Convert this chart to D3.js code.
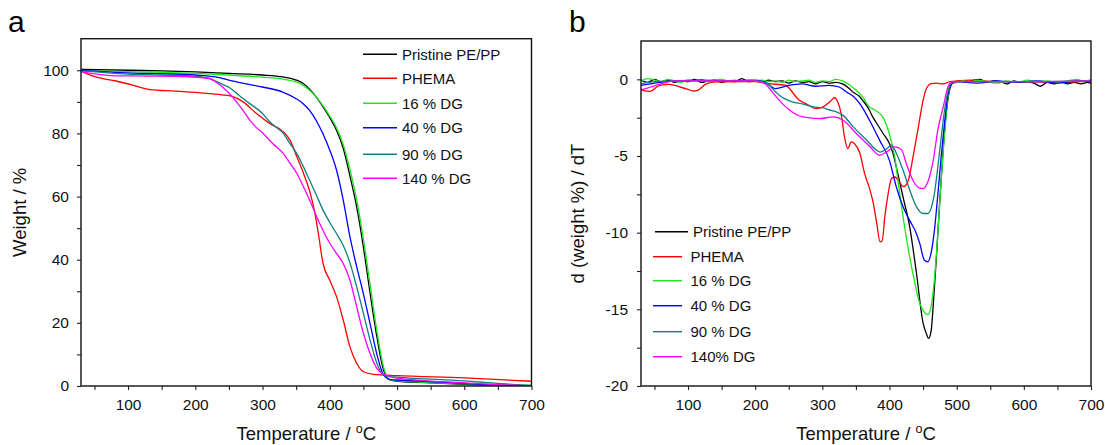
<!DOCTYPE html>
<html><head><meta charset="utf-8">
<script src="https://cdn.jsdelivr.net/npm/d3@7"></script>
<style>
html,body{margin:0;padding:0;background:#fff;}
svg{display:block;font-family:"Liberation Sans",Arial,sans-serif;}
</style></head>
<body>
<svg id="chart" width="1105" height="445"></svg>
<script>
// ---------- DATA ----------
const seriesNames = ["Pristine PE/PP","PHEMA","16 % DG","40 % DG","90 % DG","140 % DG"];
const legendNamesB = ["Pristine PE/PP","PHEMA","16 % DG","40 % DG","90 % DG","140% DG"];
const seriesColors = ["#000000","#ff0000","#1ee61e","#0000ff","#0f8080","#ff00ff"];
const xTicksMajor = [100,200,300,400,500,600,700];
const yTicksA = [0,20,40,60,80,100];
const yTicksB = [-20,-15,-10,-5,0];

// TGA (panel a): [temperature °C, weight %]
const tgaPristine = [[30,100.3],[100,100.0],[150,99.8],[200,99.5],[250,99.0],[300,98.5],[330,97.9],[340,97.5],[350,96.9],[360,95.9],[370,94.0],[380,91.5],[390,88.4],[400,85.0],[410,81.0],[420,75.3],[430,66.5],[440,56.7],[450,44.0],[460,29.3],[470,15.6],[480,5.0],[485,2.8],[490,1.9],[500,1.5],[550,1.0],[600,0.5],[650,0.2],[700,0.0]];
const tgaPHEMA = [[30,99.7],[40,98.8],[52,97.9],[82,96.6],[107,95.3],[132,93.9],[171,93.4],[221,92.6],[240,92.2],[255,91.7],[271,90.0],[291,86.3],[311,83.1],[331,80.5],[341,77.8],[351,72.6],[361,67.3],[371,61.0],[378,54.6],[383,48.3],[390,38.8],[400,33.5],[410,28.3],[420,20.9],[430,12.4],[440,7.2],[450,4.5],[465,3.7],[500,3.3],[600,2.6],[700,1.5]];
const tga16 = [[30,99.9],[100,99.6],[150,99.3],[200,99.0],[250,98.5],[300,97.8],[330,97.2],[350,96.3],[360,95.3],[370,93.7],[380,91.5],[390,88.7],[400,85.5],[410,81.8],[420,76.5],[430,68.5],[440,59.0],[450,46.5],[460,32.0],[470,17.5],[480,6.0],[485,3.0],[490,2.0],[500,1.6],[600,0.7],[700,0.3]];
const tga40 = [[30,100.0],[100,99.2],[150,98.9],[200,98.5],[230,97.9],[250,96.9],[270,95.9],[300,94.7],[330,93.1],[350,91.0],[360,89.5],[370,87.3],[380,84.0],[390,79.8],[400,74.7],[410,68.4],[420,58.9],[430,47.2],[440,37.8],[450,29.2],[460,19.7],[470,10.1],[480,3.5],[490,2.0],[500,1.9],[600,0.8],[650,0.2],[700,0.0]];
const tga90 = [[30,99.8],[100,98.8],[150,98.5],[200,98.1],[220,97.5],[230,96.6],[240,95.6],[250,94.6],[260,93.0],[270,91.2],[280,89.6],[300,86.3],[311,83.6],[320,82.0],[331,80.0],[340,77.0],[351,73.6],[360,69.8],[370,65.2],[380,60.5],[390,55.7],[400,51.8],[410,48.3],[420,44.5],[425,42.0],[430,39.0],[440,31.4],[450,23.0],[460,14.5],[470,7.2],[480,3.5],[490,3.0],[500,2.8],[600,1.6],[650,0.8],[700,0.1]];
const tga140 = [[30,99.6],[70,98.4],[100,98.2],[170,98.1],[220,97.4],[230,96.4],[240,94.8],[250,92.8],[260,90.3],[271,87.3],[280,84.5],[290,82.0],[301,80.0],[315,76.8],[331,73.6],[340,70.8],[351,67.3],[360,63.5],[370,58.9],[385,51.5],[400,45.2],[410,42.0],[420,38.8],[430,33.5],[440,25.1],[450,16.7],[460,10.2],[470,5.6],[480,3.8],[490,3.0],[500,2.5],[600,1.0],[700,0.0]];

// DTG (panel b): [temperature °C, d(weight %)/dT]
const dtgPristine = [[30,-0.05],[40,-0.2],[50,0.0],[60,-0.15],[70,-0.05],[80,-0.2],[90,-0.1],[100,-0.15],[110,0.0],[120,-0.2],[130,-0.1],[140,-0.05],[150,-0.2],[160,-0.1],[170,-0.15],[180,0.05],[190,-0.15],[200,-0.1],[210,-0.2],[220,-0.05],[230,-0.15],[240,-0.1],[250,-0.25],[260,-0.1],[270,-0.2],[280,-0.15],[290,-0.3],[300,-0.15],[310,-0.25],[320,-0.2],[330,-0.3],[340,-0.6],[346,-0.85],[355,-1.1],[360,-1.37],[370,-2.0],[375,-2.45],[380,-2.8],[390,-3.5],[400,-4.2],[405,-4.8],[410,-5.7],[420,-7.65],[430,-9.6],[440,-12.6],[450,-15.9],[455,-16.6],[458,-16.9],[462,-16.4],[465,-14.8],[470,-11.5],[475,-7.8],[480,-4.5],[485,-2.0],[490,-0.6],[495,-0.2],[505,-0.1],[515,-0.2],[525,-0.05],[535,0.0],[545,-0.2],[555,-0.1],[565,-0.15],[575,-0.3],[585,-0.1],[595,-0.2],[605,-0.15],[615,-0.25],[625,-0.45],[635,-0.2],[645,-0.3],[655,-0.15],[665,-0.3],[675,-0.2],[685,-0.3],[695,-0.2],[700,-0.25]];
const dtgPHEMA = [[30,-0.6],[33,-0.72],[43,-0.78],[58,-0.39],[73,-0.33],[88,-0.5],[100,-0.65],[108,-0.76],[115,-0.7],[127,-0.3],[142,-0.17],[200,-0.15],[219,-0.28],[245,-0.38],[251,-0.6],[261,-1.15],[266,-1.37],[276,-1.6],[291,-1.91],[301,-1.8],[311,-1.48],[318,-1.2],[323,-1.48],[328,-2.24],[333,-3.76],[338,-4.52],[343,-4.08],[348,-4.2],[356,-4.84],[363,-6.15],[371,-7.23],[376,-8.1],[381,-9.4],[386,-10.6],[389,-10.55],[393,-8.97],[398,-7.45],[403,-6.47],[408,-6.37],[413,-6.6],[421,-7.0],[428,-6.58],[435,-5.06],[443,-3.1],[450,-1.37],[455,-0.6],[462,-0.28],[470,-0.25],[480,-0.3],[490,-0.15],[520,-0.05],[560,-0.15],[600,-0.15],[650,-0.2],[700,-0.1]];
const dtg16 = [[30,-0.1],[40,0.05],[50,-0.05],[60,-0.15],[70,0.0],[80,-0.1],[90,-0.2],[100,-0.05],[110,-0.1],[120,0.0],[130,-0.15],[140,-0.05],[150,0.0],[160,-0.1],[170,-0.05],[180,-0.15],[190,-0.05],[200,-0.1],[210,-0.05],[220,-0.15],[230,-0.1],[240,-0.2],[250,-0.05],[260,-0.15],[270,-0.1],[280,-0.05],[290,-0.2],[300,-0.1],[310,-0.15],[320,0.0],[330,-0.1],[340,-0.35],[350,-0.7],[360,-1.15],[370,-1.8],[378,-2.0],[390,-2.45],[400,-3.6],[408,-5.1],[415,-7.4],[425,-10.3],[435,-12.7],[445,-14.6],[452,-15.2],[457,-15.35],[462,-14.8],[467,-13.0],[472,-10.0],[477,-6.5],[482,-3.5],[487,-1.2],[492,-0.3],[500,-0.2],[510,-0.1],[520,-0.2],[530,-0.05],[545,-0.15],[560,-0.25],[575,-0.1],[590,-0.2],[605,-0.05],[620,-0.15],[635,-0.1],[650,-0.2],[665,-0.1],[680,0.0],[690,-0.15],[700,0.0]];
const dtg40 = [[30,-0.4],[50,-0.25],[80,-0.1],[120,-0.05],[160,-0.1],[200,-0.05],[215,-0.2],[230,-0.6],[250,-0.4],[270,-0.3],[290,-0.45],[310,-0.4],[325,-0.5],[336,-0.83],[346,-1.1],[356,-1.6],[370,-2.65],[385,-3.95],[400,-5.3],[410,-7.0],[420,-8.3],[430,-9.2],[440,-10.05],[445,-10.7],[452,-11.8],[457,-11.9],[462,-11.3],[467,-9.8],[472,-7.5],[477,-5.0],[482,-2.8],[487,-1.0],[492,-0.3],[500,-0.15],[530,-0.25],[560,-0.1],[590,-0.2],[620,-0.1],[650,-0.25],[680,-0.1],[700,-0.15]];
const dtg90 = [[30,-0.3],[50,-0.15],[100,-0.1],[200,-0.1],[215,-0.2],[230,-0.8],[236,-1.04],[256,-1.48],[270,-1.6],[286,-1.8],[300,-1.85],[311,-2.0],[320,-2.1],[331,-2.35],[346,-3.1],[366,-3.97],[380,-4.6],[386,-4.75],[395,-4.55],[403,-4.3],[410,-4.8],[420,-5.9],[430,-7.2],[440,-8.3],[450,-8.75],[457,-8.75],[462,-8.4],[467,-7.4],[472,-5.7],[477,-3.8],[482,-2.0],[487,-0.8],[492,-0.25],[500,-0.15],[600,-0.15],[700,-0.1]];
const dtg140 = [[30,-0.7],[45,-0.5],[60,-0.3],[80,-0.1],[200,-0.1],[215,-0.3],[225,-0.8],[236,-1.37],[251,-2.0],[271,-2.45],[296,-2.56],[316,-2.45],[331,-2.67],[351,-3.55],[371,-4.4],[385,-4.95],[395,-4.75],[408,-4.4],[418,-4.6],[425,-5.5],[435,-6.6],[445,-7.1],[450,-7.12],[457,-6.7],[465,-5.3],[472,-3.3],[480,-1.8],[487,-0.5],[492,-0.2],[500,-0.15],[600,-0.15],[700,-0.1]];

const tgaSeries = [tgaPristine, tgaPHEMA, tga16, tga40, tga90, tga140];
const dtgSeries = [dtgPristine, dtgPHEMA, dtg16, dtg40, dtg90, dtg140];

// ---------- DRAW ----------
const svg = d3.select("#chart");
const FONT = "\"Liberation Sans\",Arial,sans-serif";

function minorTicks(lo, hi, step){ const a=[]; for(let v=lo; v<=hi+1e-9; v+=step) a.push(+v.toFixed(3)); return a; }

function panel(opt){
  const {left,right,top,bottom,xDomain,yDomain,yTicks,yMinor,series,names,legend,yPad,yTitle,yTitleX,tag,tagX} = opt;
  const x = d3.scaleLinear().domain(xDomain).range([left,right]);
  const y = d3.scaleLinear().domain(yDomain).range([bottom,top]);
  const g = svg.append("g");

  const cid = "clip"+tag;
  svg.append("clipPath").attr("id",cid).append("rect")
    .attr("x",left).attr("y",top).attr("width",right-left).attr("height",bottom-top);

  // minor ticks
  const xMinor = minorTicks(50,650,100);
  g.append("g").attr("transform",`translate(0,${bottom})`)
    .call(d3.axisBottom(x).tickValues(xMinor).tickSize(4).tickFormat(""))
    .call(s=>s.select(".domain").remove());
  g.append("g").attr("transform",`translate(${left},0)`)
    .call(d3.axisLeft(y).tickValues(yMinor).tickSize(4).tickFormat(""))
    .call(s=>s.select(".domain").remove());

  // major axes
  const xa = g.append("g").attr("transform",`translate(0,${bottom})`)
    .call(d3.axisBottom(x).tickValues(xTicksMajor).tickSize(4).tickPadding(9).tickFormat(d=>String(d)));
  const ya = g.append("g").attr("transform",`translate(${left},0)`)
    .call(d3.axisLeft(y).tickValues(yTicks).tickSize(4).tickPadding(yPad).tickFormat(d=>String(d)));
  [xa,ya].forEach(a=>{
    a.select(".domain").remove();
    a.selectAll("text").attr("font-size",15.5).attr("font-family",FONT).attr("fill","#111");
  });
  g.selectAll(".tick line").attr("stroke","#222").attr("stroke-width",1.1);

  // curves
  const line = d3.line().x(d=>x(d[0])).y(d=>y(d[1])).curve(d3.curveMonotoneX);
  const cg = g.append("g").attr("clip-path",`url(#${cid})`);
  series.forEach((s,i)=>{
    cg.append("path").datum(s).attr("d",line).attr("fill","none")
      .attr("stroke",seriesColors[i]).attr("stroke-width",1.3).attr("stroke-linejoin","round");
  });

  // frame
  g.append("rect").attr("x",left).attr("y",top).attr("width",right-left).attr("height",bottom-top)
    .attr("fill","none").attr("stroke","#111").attr("stroke-width",1.4);

  // legend
  names.forEach((n,i)=>{
    const ly = legend.ys[i];
    g.append("line").attr("x1",legend.x0[i]).attr("x2",legend.x1[i]).attr("y1",ly).attr("y2",ly)
      .attr("stroke",seriesColors[i]).attr("stroke-width",1.4);
    g.append("text").attr("x",legend.tx[i]).attr("y",ly+5.3).attr("font-size",15).attr("font-family",FONT)
      .attr("fill","#111").text(n);
  });

  // axis titles
  const xt = g.append("text").attr("x",(left+right)/2).attr("y",440).attr("text-anchor","middle")
    .attr("font-size",18.5).attr("font-family",FONT).attr("fill","#111");
  xt.append("tspan").text("Temperature / ");
  xt.append("tspan").attr("font-size",12.5).attr("dy",-7.5).text("o");
  xt.append("tspan").attr("dy",7.5).text("C");

  g.append("text").attr("transform",`translate(${yTitleX},${(top+bottom)/2}) rotate(-90)`)
    .attr("text-anchor","middle").attr("font-size",18.5).attr("font-family",FONT).attr("fill","#111").text(yTitle);

  g.append("text").attr("x",tagX).attr("y",32).attr("font-size",30).attr("font-family",FONT)
    .attr("fill","#000").text(tag);
}

panel({
  left:81, right:531.5, top:38.7, bottom:386,
  xDomain:[30,700], yDomain:[0,110], yTicks:yTicksA, yMinor:minorTicks(10,90,20), yPad:8,
  series:tgaSeries, names:seriesNames,
  legend:{ ys:[54.3,78.3,103.3,127.7,154.3,178.3], x0:[363,363,363,363,363,363], x1:[397,397,397,397,397,397], tx:[402,402,402,402,402,402] },
  yTitle:"Weight / %", yTitleX:25.5, tag:"a", tagX:8
});

panel({
  left:641, right:1091, top:41, bottom:386,
  xDomain:[30,700], yDomain:[-20,2.5], yTicks:yTicksB, yMinor:minorTicks(-17.5,-2.5,5), yPad:9,
  series:dtgSeries, names:legendNamesB,
  legend:{ ys:[231.7,256.7,280.7,305.7,331.7,356.7], x0:[655,653,653,653,653,653], x1:[688,682,682,682,682,682], tx:[693,690.5,690.5,690.5,690.5,690.5] },
  yTitle:"d (weight %) / dT", yTitleX:584, tag:"b", tagX:569
});
</script>
</body></html>
